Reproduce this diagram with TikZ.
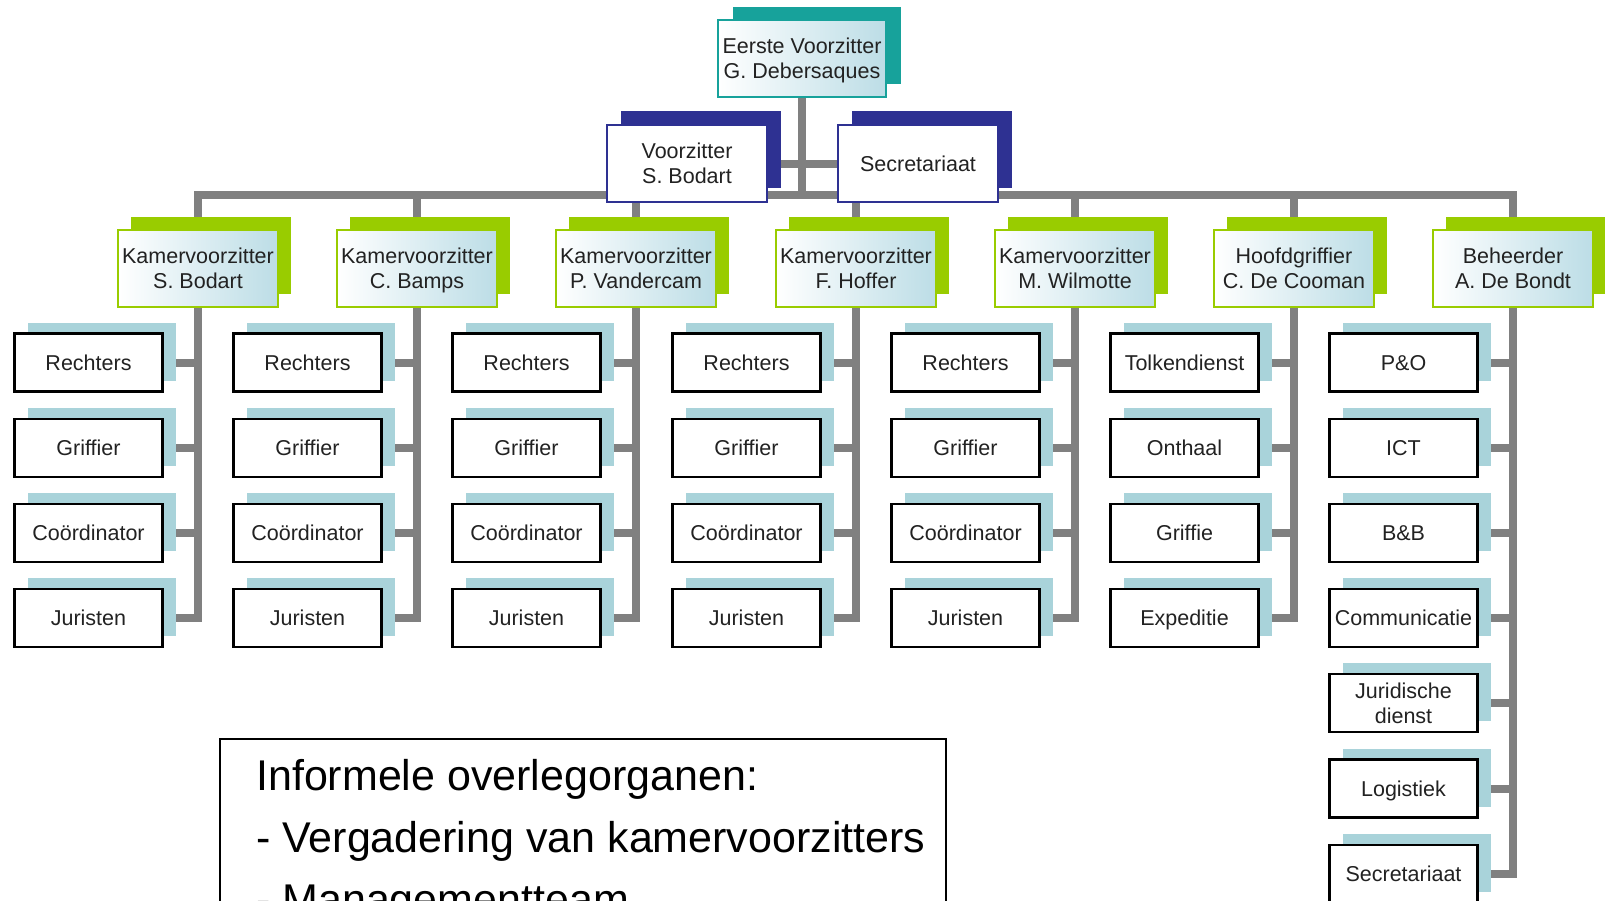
\documentclass[tikz,border=0pt]{standalone}
\usepackage{fontspec}
\setmainfont{Liberation Sans}
\usetikzlibrary{shadows,backgrounds}

\definecolor{linegray}{HTML}{808080}
\definecolor{topteal}{HTML}{17A29B}
\definecolor{navy}{HTML}{2E3192}
\definecolor{kvgreen}{HTML}{99CC00}
\definecolor{paleblue}{HTML}{A9D3DA}
\definecolor{gradblue}{HTML}{BCDDE6}
\definecolor{txt}{HTML}{222222}

\tikzset{
  link/.style={draw=linegray, line width=8pt},
  basebox/.style={inner sep=0pt, align=center, text=txt, text depth=0pt,
    font=\fontsize{21.5}{25}\selectfont},
  topbox/.style={basebox, draw=topteal, line width=2pt, minimum width=168pt,
    minimum height=77pt, left color=white, right color=gradblue,
    general shadow={fill=topteal, shadow xshift=15pt, shadow yshift=13pt}},
  staffbox/.style={basebox, draw=navy, line width=2pt, fill=white,
    minimum width=160pt, minimum height=77pt,
    general shadow={fill=navy, shadow xshift=14pt, shadow yshift=14pt}},
  kvbox/.style={basebox, draw=kvgreen, line width=2pt, minimum width=160pt,
    minimum height=77pt, left color=white, right color=gradblue,
    general shadow={fill=kvgreen, shadow xshift=13pt, shadow yshift=13pt}},
  unitbox/.style={basebox, draw=black, line width=2.2pt, fill=white,
    minimum width=148pt, minimum height=58pt,
    general shadow={fill=paleblue, shadow xshift=13pt, shadow yshift=11pt}},
  notetext/.style={anchor=base west, inner sep=0pt,
    font=\fontsize{43}{50}\selectfont}
}

\begin{document}
\begin{tikzpicture}[x=1pt, y=-1pt]
\useasboundingbox (0,0) rectangle (1605,900);
\clip (0,0) rectangle (1605,900);

% top of the tree
\node[topbox] (top) at (802,58.5) {Eerste Voorzitter\\G. Debersaques};
\node[staffbox] (vz) at (687,163.5) {Voorzitter\\S. Bodart};
\node[staffbox] (sec) at (918,163.5) {Secretariaat};
\coordinate (bus) at (802,195);

% chambers and services
\node[kvbox] (k1) at (198,268.5) {Kamervoorzitter\\S. Bodart};
\node[kvbox] (k2) at (417,268.5) {Kamervoorzitter\\C. Bamps};
\node[kvbox] (k3) at (636,268.5) {Kamervoorzitter\\P. Vandercam};
\node[kvbox] (k4) at (856,268.5) {Kamervoorzitter\\F. Hoffer};
\node[kvbox] (k5) at (1075,268.5) {Kamervoorzitter\\M. Wilmotte};
\node[kvbox] (k6) at (1294,268.5) {Hoofdgriffier\\C. De Cooman};
\node[kvbox] (k7) at (1513,268.5) {Beheerder\\A. De Bondt};

\foreach \c/\px in {1/198,2/417,3/636,4/856,5/1075}
  \foreach \lab [count=\r] in {Rechters,Griffier,Coördinator,Juristen}
    \node[unitbox] (u\c-\r) at ({\px-109.5},{362.5+85.2*(\r-1)}) {\lab};

\foreach \lab [count=\r] in {Tolkendienst,Onthaal,Griffie,Expeditie}
  \node[unitbox] (u6-\r) at (1184.5,{362.5+85.2*(\r-1)}) {\lab};

\foreach \lab [count=\r] in {P\&O,ICT,B\&B,Communicatie,{Juridische\\dienst},Logistiek,Secretariaat}
  \node[unitbox] (u7-\r) at (1403.5,{362.5+85.2*(\r-1)}) {\lab};

% connectors
\begin{scope}[on background layer]
\draw[link] (top.south) -- (bus);
\draw[link] (vz.east) -- (sec.west);
\draw[link] (k1.north) |- (bus) -| (k7.north);
\foreach \c in {2,...,6}
  \draw[link] (k\c.north) -- (k\c.north |- bus);
\foreach \c/\n in {1/4,2/4,3/4,4/4,5/4,6/4,7/7} {
  \draw[link] (k\c.south) |- (u\c-\n.east);
  \foreach \r in {1,...,\n}
    \draw[link] (u\c-\r.east) -- (u\c-\r.east -| k\c.south);
}
\end{scope}

% informal bodies
\draw[line width=2pt] (220,739) rectangle (946,990);
\node[notetext] (note1) at (256,790) {Informele overlegorganen:};
\node[notetext] (note2) at (256,852) {- Vergadering van kamervoorzitters};
\node[notetext] (note3) at (256,914) {- Managementteam};
\end{tikzpicture}
\end{document}
